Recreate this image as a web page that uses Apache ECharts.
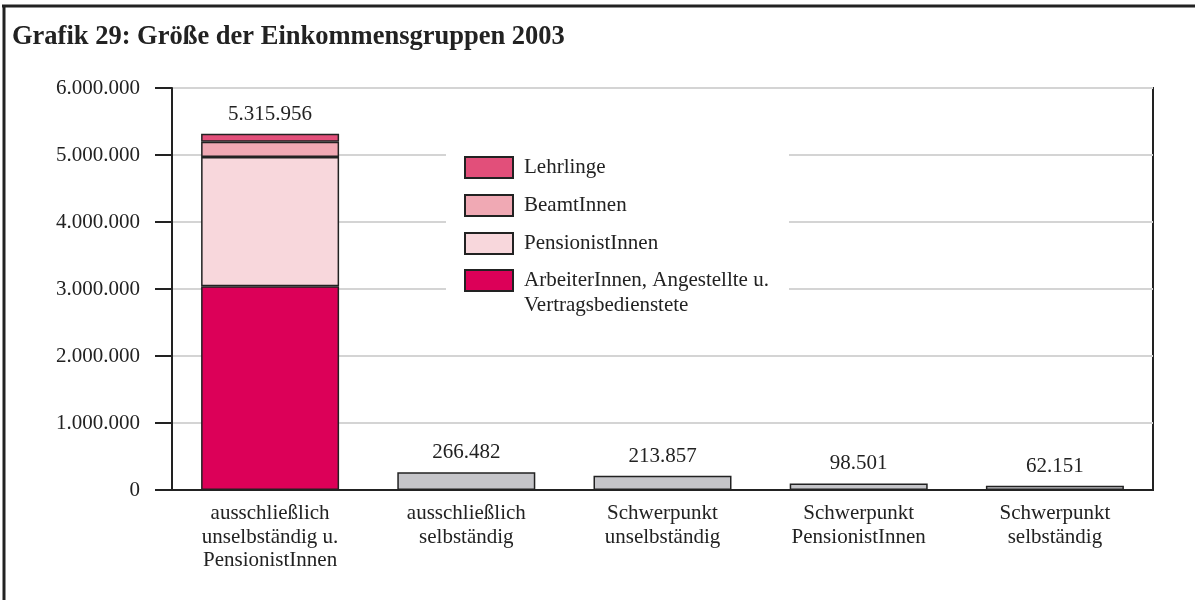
<!DOCTYPE html>
<html>
<head>
<meta charset="utf-8">
<script src="https://cdn.jsdelivr.net/npm/echarts@6/dist/echarts.min.js"></script>
<style>
  html, body { margin: 0; padding: 0; background: #fff; }
  #chart { width: 1195px; height: 600px; }
</style>
</head>
<body>
<div id="chart"></div>
<script>
// Kategorien (x-Achse)
const categories = [
  "ausschließlich\nunselbständig u.\nPensionistInnen",
  "ausschließlich\nselbständig",
  "Schwerpunkt\nunselbständig",
  "Schwerpunkt\nPensionistInnen",
  "Schwerpunkt\nselbständig",
];
// gestapelte Säule (nur erste Kategorie)
const arbeiter = [3040000, "-", "-", "-", "-"];
const pensionisten = [1930000, "-", "-", "-", "-"];
const beamte = [226000, "-", "-", "-", "-"];
const lehrlinge = [119956, "-", "-", "-", "-"];
// übrige Gruppen
const sonstige = ["-", 266482, 213857, 98501, 62151];
const gesamt = [5315956];
const yTicks = [0, 6000000, 1000000]; // min, max, interval

const font = "Liberation Serif";
const nameArbeiter = "ArbeiterInnen, Angestellte u.\nVertragsbedienstete";

// 5315956 -> 5.315.956
function fmt(v) {
  return String(v).replace(/\B(?=(\d{3})+(?!\d))/g, ".");
}

const chart = echarts.init(document.getElementById("chart"));
const border = { borderColor: "#222", borderWidth: 1.5 };
const labelStyle = { fontFamily: font, fontSize: 21, color: "#222" };

let option = {
  animation: false,
  backgroundColor: "#fff",
  textStyle: { fontFamily: font, color: "#222" },
  title: {
    text: "Grafik 29: Größe der Einkommensgruppen 2003",
    left: 7,
    top: 19,
    textStyle: { fontFamily: font, fontSize: 26.5, fontWeight: "bold", color: "#222" },
  },
  graphic: [
    // Rahmen oben und links
    { type: "line", shape: { x1: 2, y1: 6, x2: 1195, y2: 6 }, style: { stroke: "#222", lineWidth: 3 } },
    { type: "line", shape: { x1: 4, y1: 5, x2: 4, y2: 600 }, style: { stroke: "#222", lineWidth: 3 } },
    // weißer Hintergrund hinter der Legende (verdeckt Gitterlinien)
    { type: "rect", z: 1, shape: { x: 446, y: 148, width: 343, height: 170 }, style: { fill: "#fff" } },
  ],
  legend: [
    {
      orient: "vertical",
      left: 464,
      top: 156,
      padding: 0,
      icon: "rect",
      itemWidth: 48,
      itemHeight: 21,
      itemGap: 15,
      textStyle: { fontFamily: font, fontSize: 21, color: "#222", lineHeight: 21, padding: [0, 0, 0, 6] },
      data: ["Lehrlinge", "BeamtInnen", "PensionistInnen"],
    },
    {
      // zweizeiliger Eintrag: leere erste Zeile, damit die erste Textzeile auf Höhe des Kästchens liegt
      orient: "vertical",
      left: 464,
      top: 243,
      padding: 0,
      icon: "rect",
      itemWidth: 48,
      itemHeight: 21,
      formatter: (name) => "\n" + name,
      textStyle: { fontFamily: font, fontSize: 21, color: "#222", lineHeight: 25, padding: [0, 0, 0, 6] },
      data: [nameArbeiter],
    },
  ],
  grid: {
    left: 172,
    right: 42,
    top: 88,
    bottom: 110,
    show: true,
    borderColor: "#222",
    borderWidth: 2,
  },
  xAxis: {
    type: "category",
    data: categories,
    axisLine: { lineStyle: { color: "#222", width: 2 } },
    axisTick: { show: false },
    axisLabel: Object.assign({ lineHeight: 23.5, margin: 12, interval: 0 }, labelStyle),
  },
  yAxis: {
    type: "value",
    min: yTicks[0],
    max: yTicks[1],
    interval: yTicks[2],
    axisLine: { show: true, lineStyle: { color: "#222", width: 2 } },
    axisTick: { show: true, inside: false, length: 17, lineStyle: { color: "#222", width: 2 } },
    splitLine: { lineStyle: { color: "#d4d4d4", width: 2 } },
    axisLabel: Object.assign({ margin: 32, formatter: (v) => fmt(v) }, labelStyle),
  },
  series: [
    {
      name: nameArbeiter,
      type: "bar",
      stack: "a",
      barWidth: 138,
      itemStyle: Object.assign({ color: "#dc0058" }, border),
      data: arbeiter,
    },
    {
      name: "PensionistInnen",
      type: "bar",
      stack: "a",
      barWidth: 138,
      itemStyle: Object.assign({ color: "#f8d7dc" }, border),
      data: pensionisten,
    },
    {
      name: "BeamtInnen",
      type: "bar",
      stack: "a",
      barWidth: 138,
      itemStyle: Object.assign({ color: "#f0a9b4" }, border),
      data: beamte,
    },
    {
      name: "Lehrlinge",
      type: "bar",
      stack: "a",
      barWidth: 138,
      itemStyle: Object.assign({ color: "#e24f7a" }, border),
      label: Object.assign(
        { show: true, position: "top", distance: 9, formatter: () => fmt(gesamt[0]) },
        labelStyle
      ),
      data: lehrlinge,
    },
    {
      name: "sonstige",
      type: "bar",
      stack: "a",
      barWidth: 138,
      itemStyle: Object.assign({ color: "#c5c5c9" }, border),
      label: Object.assign(
        { show: true, position: "top", distance: 9, formatter: (p) => fmt(p.value) },
        labelStyle
      ),
      data: sonstige,
    },
  ],
};
chart.setOption(option, true);
</script>
</body>
</html>
